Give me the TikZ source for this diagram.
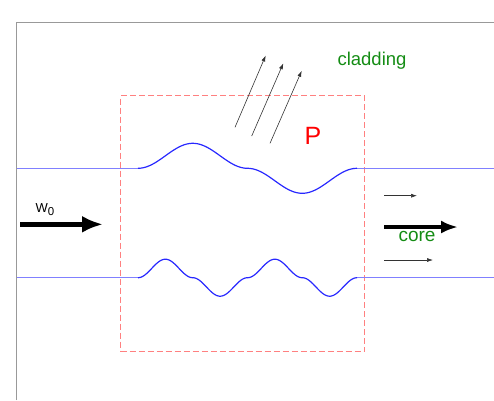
\documentclass[tikz,border=0pt]{standalone}
\usepackage{fontspec}
\setmainfont{Liberation Sans}
\usetikzlibrary{arrows.meta}

\definecolor{framegray}{RGB}{153,153,153}
\definecolor{guideblue}{RGB}{128,128,255}
\definecolor{waveblue}{RGB}{40,40,255}
\definecolor{boxred}{RGB}{255,128,128}
\definecolor{labelgreen}{RGB}{20,140,20}

\begin{document}
\begin{tikzpicture}[
        x = 1pt, y = -1pt, % one unit per pixel, y axis pointing down
        frame/.style = {framegray, line width=1.4pt},
        guide/.style = {guideblue, line width=0.9pt}, % straight part of the guide
        wave/.style = {waveblue, line width=1.2pt}, % perturbed part
        region/.style = {draw=boxred, dash pattern=on 6pt off 3pt, line width=0.9pt,
                         minimum width=244pt, minimum height=256pt, inner sep=0pt},
        ray/.style = {black!80, line width=0.6pt, -{Latex[length=6pt, width=4pt]}},
        beam/.style = {black, line width=4.5pt, -{Latex[length=21pt, width=17pt]}},
        semithick
        ]
  \useasboundingbox (0,0) rectangle (494,400);

  % outer frame
  \draw[frame] (16.5,400) |- (494,22.5);

  % perturbation region
  \node[region] (box) at (242.5,223.5) {};

  % fibre guides
  \draw[guide] (17,168.3) -- (138,168.3);
  \draw[guide] (357,168.3) -- (494,168.3);
  \draw[guide] (17,277.7) -- (138,277.7);
  \draw[guide] (357,277.7) -- (494,277.7);
  \draw[wave] plot[domain=0:360, samples=120, smooth]
        ({138+219*(\x/360)}, {168.3-25*sin(\x)*abs(sin(\x))});
  \draw[wave] plot[domain=0:720, samples=200, smooth]
        ({138+219*(\x/720)}, {277.7-18.5*sin(\x)*abs(sin(\x))});

  % labels
  \node[labelgreen, anchor=base, font=\fontsize{18.5}{20}\selectfont] (clad) at (372,65) {cladding};
  \node[red, anchor=base, font=\fontsize{25}{28}\selectfont] (p) at (313,144) {P};
  \node[anchor=base, font=\fontsize{13}{15}\selectfont] (w0) at (45,212)
        {W\raisebox{-0.5ex}{\fontsize{11.5}{12}\selectfont 0}};

  % input beam
  \coordinate (ins) at (20,224.3);
  \coordinate (ine) at (103,224.3);
  \draw[beam] (ins) -- (ine);

  % output beam in the core
  \coordinate (outs) at (384,227);
  \coordinate (oute) at (458,227);
  \draw[beam, line width=4pt, -{Latex[length=17pt, width=13pt]}] (outs) -- (oute);
  \node[labelgreen, anchor=base, font=\fontsize{19}{21}\selectfont] (core) at (417,241) {core};

  \coordinate (o1s) at (384,195.7);
  \coordinate (o1e) at (417,195.7);
  \coordinate (o2s) at (384,260);
  \coordinate (o2e) at (433,260);
  \draw[ray] (o1s) -- (o1e);
  \draw[ray] (o2s) -- (o2e);

  % radiated light
  \coordinate (r1s) at (235,127.3);
  \coordinate (r1e) at (265.7,55.5);
  \coordinate (r2s) at (251.7,136);
  \coordinate (r2e) at (283.3,63.3);
  \coordinate (r3s) at (270,143.3);
  \coordinate (r3e) at (301.7,70.8);
  \draw[ray] (r1s) -- (r1e);
  \draw[ray] (r2s) -- (r2e);
  \draw[ray] (r3s) -- (r3e);

\end{tikzpicture}
\end{document}
